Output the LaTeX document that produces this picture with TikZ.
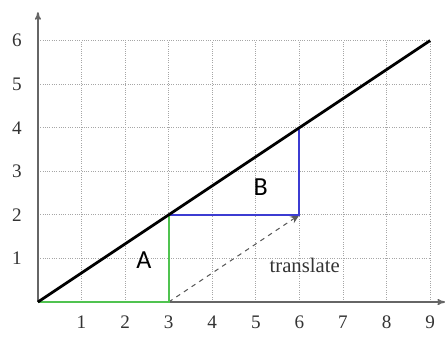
\documentclass[tikz,border=0pt]{standalone}
\usepackage{fontspec}
\setmainfont{Liberation Serif}
\newfontfamily\labelfont{Carlito}
\usetikzlibrary{arrows,arrows.meta}
\definecolor{legA}{RGB}{80,195,80}
\definecolor{legB}{RGB}{60,60,210}

\begin{document}
\begin{tikzpicture}[
axis/.style={draw=gray!80!black,line width=1.1pt,-{To[length=5pt,width=4pt]}},
gridline/.style={draw=gray!70,densely dotted,line width=0.5pt},
tick/.style={font=\fontsize{12.5}{13}\selectfont,text=black!80},
piece/.style={line width=1.4pt},
letter/.style={font=\labelfont\fontsize{17}{18}\selectfont},
arrow/.style={-{Stealth[length=6pt,width=5pt]},dashed,draw=gray!70!black,line width=0.7pt} ]

\useasboundingbox (-0.87,-0.80) rectangle (9.34,6.93);

% grid
\foreach \x in {1,...,9} \draw[gridline] (\x,0) -- (\x,6);
\foreach \y in {1,...,6} \draw[gridline] (0,\y) -- (9,\y);

% axes
\coordinate (O) at (0,0);
\coordinate (xend) at (9.34,0);
\coordinate (yend) at (0,6.65);
\draw[axis] (O) -- (xend);
\draw[axis] (O) -- (yend);

\foreach \x in {1,...,9} \node[tick](x\x) at (\x,-0.46) {\x};
\foreach \y in {1,...,6} \node[tick](y\y) at (-0.48,\y) {\y};

\coordinate (P) at (3,0);
\coordinate (Q) at (3,2);
\coordinate (R) at (6,2);
\coordinate (S) at (6,4);
\coordinate (T) at (9,6);

\draw[arrow] (P) -- (R);

\draw[piece,draw=legA] (O) -- (P) -- (Q);
\draw[piece,draw=legB] (Q) -- (R) -- (S);

\draw[line width=1.8pt] (O) -- (T);

\node[letter](A) at (2.43,0.97) {A};
\node[letter](B) at (5.11,2.63) {B};
\node[font=\fontsize{13.5}{14}\selectfont,text=black!80](trans) at (6.12,0.83) {translate};
\end{tikzpicture}
\end{document}
